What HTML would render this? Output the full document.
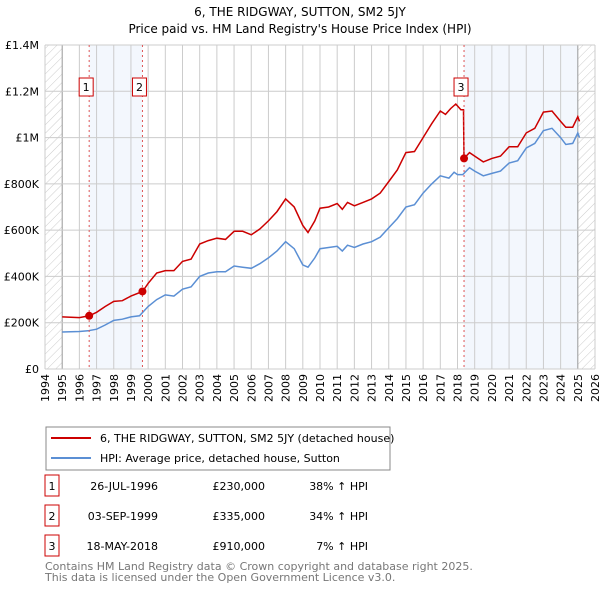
<!DOCTYPE html>
<html><head><meta charset="utf-8"><style>
body{margin:0;background:#fff;font-family:"Liberation Sans","DejaVu Sans",sans-serif;}
svg text{font-family:"DejaVu Sans","Liberation Sans",sans-serif;}
</style></head><body>
<svg id="c" width="600" height="590" xmlns="http://www.w3.org/2000/svg">
<defs><pattern id="hatch" width="6" height="6" patternUnits="userSpaceOnUse" patternTransform="rotate(45)"><line x1="0" y1="0" x2="0" y2="6" stroke="#ccc" stroke-width="1"/></pattern></defs>
<text x="300" y="16" text-anchor="middle" font-size="12">6, THE RIDGWAY, SUTTON, SM2 5JY</text>
<text x="300" y="33" text-anchor="middle" font-size="12">Price paid vs. HM Land Registry's House Price Index (HPI)</text>
<g id="plot"></g>
<rect x="46" y="427" width="344" height="43" fill="#fff" stroke="#888"/>
<line x1="51" y1="438" x2="91" y2="438" stroke="#cc0000" stroke-width="2"/>
<text x="100" y="442" font-size="11">6, THE RIDGWAY, SUTTON, SM2 5JY (detached house)</text>
<line x1="51" y1="458" x2="91" y2="458" stroke="#5b8fd4" stroke-width="2"/>
<text x="100" y="462" font-size="11">HPI: Average price, detached house, Sutton</text>
<g id="table" font-size="11"></g>
<text x="45" y="570" font-size="11" fill="#777">Contains HM Land Registry data © Crown copyright and database right 2025.</text>
<text x="45" y="581" font-size="11" fill="#777">This data is licensed under the Open Government Licence v3.0.</text>
</svg>
<script>
const hpiYears=[1995,1996,1996.5,1997,1997.5,1998,1998.5,1999,1999.5,2000,2000.5,2001,2001.5,2002,2002.5,2003,2003.5,2004,2004.5,2005,2005.5,2006,2006.5,2007,2007.5,2008,2008.5,2009,2009.3,2009.7,2010,2010.5,2011,2011.3,2011.6,2012,2012.5,2013,2013.5,2014,2014.5,2015,2015.5,2016,2016.5,2017,2017.5,2017.8,2018,2018.3,2018.7,2019,2019.5,2020,2020.5,2021,2021.5,2022,2022.5,2023,2023.5,2024,2024.3,2024.7,2025,2025.1];
const hpiValues=[160,162,165,172,190,210,215,225,230,270,300,320,315,345,355,400,415,420,420,445,440,435,455,480,510,550,520,450,440,480,520,525,530,510,535,525,540,550,570,610,650,700,710,760,800,835,825,850,840,840,870,855,835,845,855,890,900,955,975,1030,1040,1000,970,975,1020,1000];
const propYears=[1995,1996,1996.57,1997,1997.5,1998,1998.5,1999,1999.67,2000,2000.5,2001,2001.5,2002,2002.5,2003,2003.5,2004,2004.5,2005,2005.5,2006,2006.5,2007,2007.5,2008,2008.5,2009,2009.3,2009.7,2010,2010.5,2011,2011.3,2011.6,2012,2012.5,2013,2013.5,2014,2014.5,2015,2015.5,2016,2016.5,2017,2017.3,2017.6,2017.9,2018.2,2018.35,2018.38,2018.7,2019,2019.5,2020,2020.5,2021,2021.5,2022,2022.5,2023,2023.5,2024,2024.3,2024.7,2025,2025.1];
const propValues=[225,222,230,245,270,292,295,315,335,370,415,425,425,465,475,540,555,565,560,595,595,580,605,640,680,735,700,620,590,640,695,700,715,690,720,705,720,735,760,810,860,935,940,1000,1060,1115,1100,1125,1145,1120,1120,910,935,920,895,910,920,960,960,1020,1040,1110,1115,1070,1045,1045,1090,1070];
const saleLabels=["1","2","3"];
const saleYears=[1996.57,1999.67,2018.38];
const saleValues=[230,335,910];
const saleDates=["26-JUL-1996","03-SEP-1999","18-MAY-2018"];
const salePrices=["£230,000","£335,000","£910,000"];
const saleDiffs=["38% ↑ HPI","34% ↑ HPI","7% ↑ HPI"];
const yTicks=[0,200,400,600,800,1000,1200,1400];
const yTickLabels=["£0","£200K","£400K","£600K","£800K","£1M","£1.2M","£1.4M"];
const X0=45,X1=595,Y0=369,Y1=45,YMIN=1994,YMAX=2026;
const xs=y=>X0+(y-YMIN)/(YMAX-YMIN)*(X1-X0);
const ys=v=>Y0-v/1400*(Y0-Y1);
const NS="http://www.w3.org/2000/svg";
const g=document.getElementById('plot');
function mk(tag,attrs,parent){const e=document.createElementNS(NS,tag);for(const k in attrs)e.setAttribute(k,attrs[k]);(parent||g).appendChild(e);return e;}
let r;
r=mk('rect',{x:xs(saleYears[0]),y:Y1,width:xs(saleYears[1])-xs(saleYears[0]),height:Y0-Y1,fill:'#eef3fc',opacity:0.7});


r=mk('rect',{x:xs(saleYears[2]),y:Y1,width:xs(2025)-xs(saleYears[2]),height:Y0-Y1,fill:'#eef3fc',opacity:0.7});


r=mk('rect',{x:X0,y:Y1,width:xs(1995)-X0,height:Y0-Y1,fill:'url(#hatch)'});


r=mk('rect',{x:xs(2025),y:Y1,width:X1-xs(2025),height:Y0-Y1,fill:'url(#hatch)'});


for(let yr=YMIN;yr<=YMAX;yr++){
 const l=mk('line',{x1:xs(yr),x2:xs(yr),y1:Y1,y2:Y0,stroke:(yr==1995||yr==2025)?'#999':'#ccc','stroke-width':1});
 
 
 const t=mk('text',{x:0,y:0,'font-size':11,'text-anchor':'end',transform:`translate(${xs(yr)+4},${Y0+5}) rotate(-90)`});
 t.textContent=String(yr);
 
 
}
yTicks.forEach((v,i)=>{
 const l=mk('line',{x1:X0,x2:X1,y1:ys(v),y2:ys(v),stroke:'#ccc','stroke-width':1});
 
 
 const t=mk('text',{x:X0-6,y:ys(v)+4,'font-size':11,'text-anchor':'end'});
 t.textContent=yTickLabels[i];
 
 
});
const pts=(a,b)=>a.map((y,i)=>xs(y).toFixed(1)+','+ys(b[i]).toFixed(1)).join(' ');
let p=mk('polyline',{points:pts(hpiYears,hpiValues),fill:'none',stroke:'#5b8fd4','stroke-width':1.5});


p=mk('polyline',{points:pts(propYears,propValues),fill:'none',stroke:'#cc0000','stroke-width':1.5});


saleYears.forEach((yr,i)=>{
 const l=mk('line',{x1:xs(yr),x2:xs(yr),y1:Y1,y2:Y0,stroke:'#e05555','stroke-width':1,'stroke-dasharray':'2,3'});
 
 
 const c=mk('circle',{cx:xs(yr),cy:ys(saleValues[i]),r:4,fill:'#cc0000'});
 
 
 const b=mk('rect',{x:xs(yr)-10,y:78,width:14,height:18,fill:'#fff',stroke:'#cc0000'});
 
 
 const t=mk('text',{x:xs(yr)-3,y:91,'font-size':11,'text-anchor':'middle'});
 t.textContent=saleLabels[i];
 
 
});
const tb=document.getElementById('table');
saleLabels.forEach((s,i)=>{
 const y=485.5+i*30;
 const b=mk('rect',{x:45,y:y-10.5,width:14,height:21,fill:'#fff',stroke:'#cc0000'},tb);
 
 
 const vals=[[52,s,'middle'],[158,saleDates[i],'end'],[265,salePrices[i],'end'],[368,saleDiffs[i],'end']];
 vals.forEach(v=>{const t=mk('text',{x:v[0],y:y+4.5,'font-size':11,'text-anchor':v[2]},tb);t.textContent=v[1];
 
 });
});
</script>
</body></html>
